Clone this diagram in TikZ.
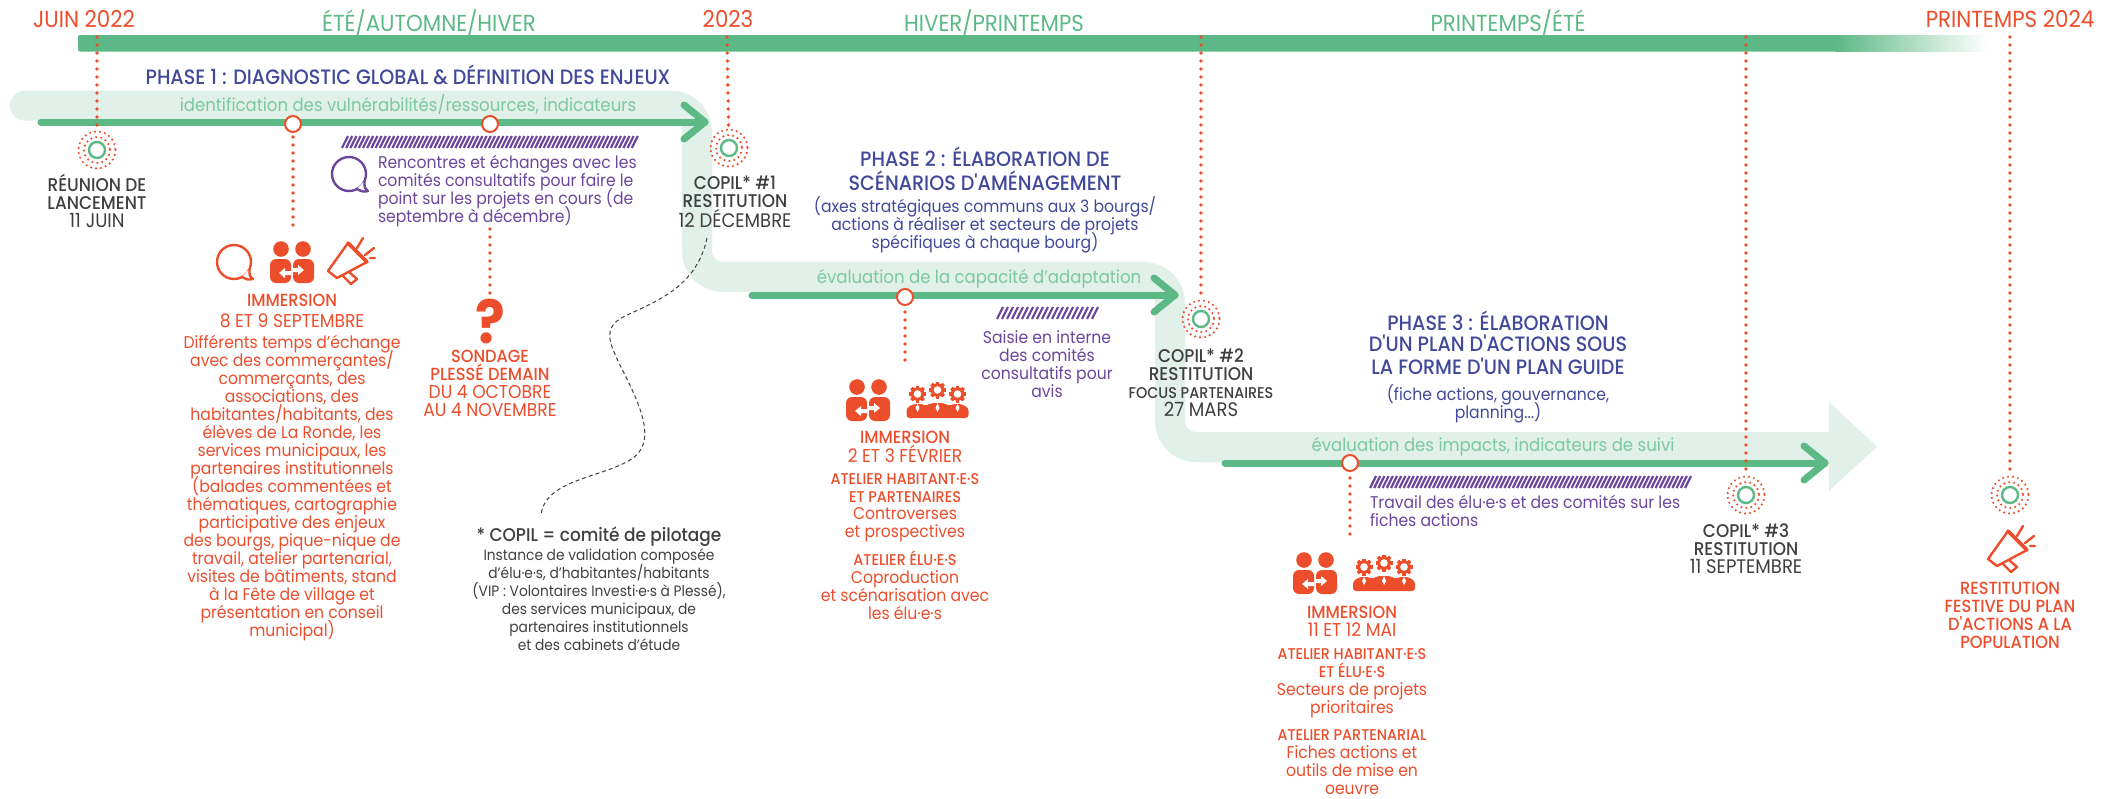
\documentclass[tikz,border=0pt]{standalone}
\usepackage{fontspec}
\setmainfont{Poppins}[FakeStretch=0.92]
\newfontfamily\medf{Poppins Medium}[FakeStretch=0.92]
\definecolor{cred}{HTML}{EC4E2C}
\definecolor{cgreen}{HTML}{5CB885}
\definecolor{cpale}{HTML}{E1F0E8}
\definecolor{cband}{HTML}{7CC8A2}
\definecolor{cblue}{HTML}{41499A}
\definecolor{cpurple}{HTML}{6A479C}
\definecolor{cdark}{HTML}{3F3F3F}
\newcommand\T[5]{\node[txt,anchor=north,#2] (#1) at (#3,#4-10) {\rule{0pt}{8pt}#5};}
\lineskiplimit=-20pt
\tikzset{
  x=0.5pt,y=-0.5pt,
  txt/.style={inner sep=0pt,outer sep=0pt,align=center,font=\fontsize{8.5}{9}\selectfont,execute at begin node={\lineskiplimit=-20pt}},
  toplabel/.style={font=\fontsize{11.6}{12}\selectfont},
  phasehead/.style={text=cblue,font=\medf\fontsize{10.4}{12}\selectfont},
  phasesub/.style={text=cblue,font=\fontsize{8.5}{9}\selectfont},
  bandtext/.style={text=cband,font=\fontsize{9}{9}\selectfont},
  redbody/.style={text=cred},
  redcaps/.style={text=cred,font=\fontsize{9.3}{9}\selectfont},
  redhead/.style={text=cred,font=\medf\fontsize{8.8}{9}\selectfont},
  redsmall/.style={text=cred,font=\medf\fontsize{7.8}{9}\selectfont},
  darkhead/.style={text=cdark,font=\medf\fontsize{9.2}{9}\selectfont},
  darkbody/.style={text=cdark,font=\fontsize{9.8}{9}\selectfont},
  purplebody/.style={text=cpurple},
  band/.style={draw=cpale,line width=15pt,line cap=round,rounded corners=13pt},
  timeline/.style={draw=cgreen,line width=3.5pt,line cap=round,line join=round},
  dotv/.style={draw=cred,line width=1.9pt,line cap=round,dash pattern=on 0pt off 4pt},
  openmark/.style={circle,draw=cred,fill=white,line width=1pt,minimum size=8pt,inner sep=0pt},
  ringmark/.style={circle,draw=cgreen,fill=white,line width=1.2pt,minimum size=8pt,inner sep=0pt},
  hatchline/.style={draw=cpurple,line width=1.1pt},
  pics/haloicon/.style={code={
    \draw[cred,line width=1.2pt,line cap=round,dash pattern=on 0pt off 2.5pt] (0,0) circle (13);
    \draw[cred,line width=1.2pt,line cap=round,dash pattern=on 0pt off 2.5pt] (0,0) circle (18.5);
  }},
  pics/bubbleicon/.style={code={
    \draw[#1,line width=1.2pt] (0,0) circle (17);
    \draw[#1,line width=1.2pt,fill=white,line join=round] (15.5,7) .. controls (15.5,14) .. (19,17) .. controls (14,18) .. (8,15);
  }},
  pics/peopleicon/.style={code={
    \fill[cred] (-11,-13) circle (7.8) (11,-13) circle (7.8);
    \fill[cred,rounded corners=3pt] (-22,21) -- (-22,-3) -- (-1,-3) -- (-1,5) -- (-1,21) -- cycle;
    \fill[cred,rounded corners=3pt] (1,21) -- (1,-3) -- (22,-3) -- (22,21) -- cycle;
    \fill[white] (-13,11) -- (-7,6) -- (-7,9) -- (-1,9) -- (-1,13) -- (-7,13) -- (-7,16) -- cycle;
    \fill[white] (12,8) -- (6,3) -- (6,6) -- (1,6) -- (1,10) -- (6,10) -- (6,13) -- cycle;
  }},
  pics/gearsicon/.style={code={
    \foreach \gx/\gy in {-20/-6,0/-10,20/-6}{
      \foreach \ga in {0,45,...,315}{
        \fill[cred,shift={(\gx,\gy)},rotate=\ga] (-1.6,-8.5) rectangle (1.6,8.5);
      }
      \fill[cred] (\gx,\gy) circle (6.8);
      \fill[white] (\gx,\gy) circle (3.8);
    }
    \fill[cred,rounded corners=1.5pt] (-31,18) -- (-31,8) -- (-24,4) -- (-16,4) -- (-10,6) -- (-7,3) -- (7,3) -- (10,6) -- (16,4) -- (24,4) -- (31,8) -- (31,18) -- cycle;
    \fill[white] (-20,4) -- (-18,8) -- (-20,12) -- (-22,8) -- cycle (0,3) -- (2,8) -- (0,12) -- (-2,8) -- cycle (20,4) -- (22,8) -- (20,12) -- (18,8) -- cycle;
  }},
  pics/megaicon/.style={code={
    \draw[cred,line width=1.2pt,line join=round,line cap=round] (-22,9) -- (-2,-19) -- (17,0) -- (-13,16) -- cycle;
    \draw[cred,line width=1.9pt,line cap=round] (-2,-19) -- (17,0);
    \draw[cred,line width=1.2pt,line join=round] (-8,13) -- (1,22) -- (7,17) -- (-1,10);
    \draw[cred,line width=1.2pt,line cap=round] (7,-14) -- (13,-24) (15,-7) -- (24,-14) (20,-4) -- (25,-4);
  }},
}
\begin{document}
\begin{tikzpicture}
\useasboundingbox (0,0) rectangle (2119,798);
% top bar
\fill[cgreen,rounded corners=1pt] (78,35) rectangle (1836,51.5);
\shade[left color=cgreen,right color=white] (1835,35) rectangle (1987,51.5);
% coordinates
\coordinate (bandA) at (25,105.5);
\coordinate (bandB) at (697,105.5);
\coordinate (bandC) at (697,277);
\coordinate (bandD) at (1170,277);
\coordinate (bandE) at (1170,447);
\coordinate (bandF) at (1830,447);
\draw[band] (bandA) -- (bandB) -- (bandC) -- (bandD) -- (bandE) -- (bandF);
\fill[cpale] (1829,402) -- (1877,446.5) -- (1829,491) -- cycle;
% timelines
\coordinate (tlA) at (41,122); \coordinate (tlAe) at (705,122);
\coordinate (tlB) at (752,295); \coordinate (tlBe) at (1175,295);
\coordinate (tlC) at (1225,463); \coordinate (tlCe) at (1825,463);
\draw[timeline] (tlA) -- (tlAe);
\draw[timeline] (684,105) -- (tlAe) -- (684,139);
\draw[timeline] (tlB) -- (tlBe);
\draw[timeline] (1154,278) -- (tlBe) -- (1154,312);
\draw[timeline] (tlC) -- (tlCe);
\draw[timeline] (1804,446) -- (tlCe) -- (1804,480);
% top labels
\T{lA}{toplabel,text=cred}{84}{20}{JUIN 2022}
\T{lB}{toplabel,text=cgreen}{429}{20}{ÉTÉ/AUTOMNE/HIVER}
\T{lC}{toplabel,text=cred}{728}{20}{2023}
\T{lD}{toplabel,text=cgreen}{994}{20}{HIVER/PRINTEMPS}
\T{lE}{toplabel,text=cgreen}{1508}{20}{PRINTEMPS/ÉTÉ}
\T{lF}{toplabel,text=cred}{2010}{20}{PRINTEMPS 2024}
% rings
\node[ringmark] (r1) at (97,150) {};
\node[ringmark] (r2) at (729,148) {};
\node[ringmark] (r3) at (1201,319) {};
\node[ringmark] (r4) at (1746,495) {};
\node[ringmark] (r5) at (2010,495) {};
\foreach \n in {r1,r2,r3,r4,r5}{\pic at (\n) {haloicon};}
\coordinate (t1) at (97,37); \coordinate (t2) at (727,37); \coordinate (t3) at (1201,37);
\coordinate (t4) at (1746,37); \coordinate (t5) at (2010,37);
\foreach \a/\b in {t1/r1,t2/r2,t3/r3,t4/r4,t5/r5}{\draw[dotv,shorten >=6pt] (\a) -- (\b);}
% open marks
\node[openmark] (m1) at (293,124) {};
\node[openmark] (m2) at (490,124) {};
\node[openmark] (m3) at (905,297) {};
\node[openmark] (m4) at (1350,463) {};
\coordinate (e1) at (293,228);
\coordinate (f2) at (490,229); \coordinate (e2) at (490,295);
\coordinate (e3) at (905,367);
\coordinate (e4) at (1350,539);
\draw[dotv,shorten <=2pt] (m1) -- (e1);
\draw[dotv] (f2) -- (e2);
\draw[dotv,shorten <=3pt] (m3) -- (e3);
\draw[dotv,shorten <=3pt] (m4) -- (e4);
% hatches
\foreach \x in {342,346.2,...,634}{\draw[hatchline] (\x,148) -- (\x+6,136);}
\foreach \x in {997,1002,...,1095}{\draw[hatchline] (\x,319) -- (\x+6,307);}
\foreach \x in {1370,1374.2,...,1687}{\draw[hatchline] (\x,488) -- (\x+6,476);}
% phase 1
\T{pA}{phasehead}{408}{75}{PHASE 1 : DIAGNOSTIC GLOBAL \& DÉFINITION DES ENJEUX}
\T{bA}{bandtext}{408}{105}{identification des vulnérabilités/ressources, indicateurs}
\T{rzA}{darkhead}{97}{184}{RÉUNION DE\\LANCEMENT}
\T{rzB}{darkbody}{97}{221}{11 JUIN}
\pic at (349,174) {bubbleicon=cpurple};
\T{cmA}{purplebody,anchor=north west,align=left}{378}{162}{Rencontres et échanges avec les\\comités consultatifs  pour faire le\\point sur les projets en cours (de\\septembre à décembre)}
\pic at (234,262) {bubbleicon=cred};
\pic at (292,262) {peopleicon};
\pic at (350,262) {megaicon};
\T{imA}{redhead}{292}{300}{IMMERSION}
\T{imAd}{redcaps}{292}{321}{8 ET 9 SEPTEMBRE}
\T{imAt}{redbody}{292}{342}{Différents temps d’échange\\avec des commerçantes/\\commerçants, des\\associations, des\\habitantes/habitants, des\\élèves de La Ronde, les\\services municipaux, les\\partenaires institutionnels\\(balades commentées et\\thématiques, cartographie\\participative des enjeux\\des bourgs, pique-nique de\\travail, atelier partenarial,\\visites de bâtiments, stand\\à la Fête de village et\\présentation en conseil\\municipal)}
\node[inner sep=0pt,text=cred,font=\bfseries\fontsize{30}{30}\selectfont] (qm) at (490,322) {?};
\T{soA}{redhead}{490}{356}{SONDAGE\\PLESSÉ DEMAIN}
\T{soB}{redcaps}{490}{392}{DU 4 OCTOBRE\\AU 4 NOVEMBRE}
% copil 1 and note
\T{coA}{darkhead}{735}{183}{COPIL* \#1\\RESTITUTION}
\T{coAd}{darkbody}{735}{219}{12 DÉCEMBRE}
\coordinate (dsA) at (707,238);
\coordinate (dsB) at (541,515);
\draw[cdark,line width=0.5pt,dashed,dash pattern=on 2pt off 1.5pt] (dsA) .. controls (697,285) and (660,300) .. (625,316) .. controls (600,328) and (610,345) .. (625,375) .. controls (645,415) and (655,445) .. (630,460) .. controls (600,478) and (545,480) .. (dsB);
\T{noA}{text=cdark,font=\medf\fontsize{9.2}{9}\selectfont}{599}{535}{* COPIL = comité de pilotage}
\T{noB}{text=cdark,font=\fontsize{7.5}{9}\selectfont}{599}{554}{Instance de validation composée\\d'élu·e·s, d'habitantes/habitants\\(VIP : Volontaires Investi·e·s à Plessé),\\des services municipaux, de\\partenaires institutionnels\\et des cabinets d'étude}
% phase 2
\T{pB}{phasehead}{985}{157}{PHASE 2 : ÉLABORATION DE}
\T{pBb}{phasehead}{985}{181}{SCÉNARIOS D'AMÉNAGEMENT}
\T{pBs}{phasesub}{985}{206}{(axes stratégiques communs aux 3 bourgs/\\actions à réaliser et secteurs de projets\\spécifiques à chaque bourg)}
\T{bB}{bandtext}{979}{277}{évaluation de la capacité d'adaptation}
\T{saA}{purplebody}{1047}{337}{Saisie en interne\\des comités\\consultatifs pour\\avis}
\T{coB}{darkhead}{1201}{356}{COPIL* \#2\\RESTITUTION}
\T{coBf}{text=cdark,font=\medf\fontsize{7.8}{9}\selectfont}{1201}{392}{FOCUS PARTENAIRES}
\T{coBd}{darkbody}{1201}{410}{27 MARS}
\pic at (868,400) {peopleicon};
\pic at (937.5,400) {gearsicon};
\T{imB}{redhead}{905}{437}{IMMERSION}
\T{imBd}{redcaps}{905}{455}{2 ET 3 FÉVRIER}
\T{imBa}{redsmall}{905}{478}{ATELIER HABITANT·E·S\\ET PARTENAIRES}
\T{imBb}{redbody}{905}{513}{Controverses\\et prospectives}
\T{imBc}{redsmall}{905}{559}{ATELIER ÉLU·E·S}
\T{imBe}{redbody}{905}{577}{Coproduction\\et scénarisation avec\\les élu·e·s}
% phase 3
\T{pC}{phasehead}{1498}{321}{PHASE 3 : ÉLABORATION}
\T{pCb}{phasehead}{1498}{345}{D'UN PLAN D'ACTIONS SOUS}
\T{pCc}{phasehead}{1498}{368}{LA FORME D'UN PLAN GUIDE}
\T{pCs}{phasesub}{1498}{394}{(fiche actions, gouvernance,\\planning...)}
\T{bC}{bandtext}{1493}{445}{évaluation des impacts, indicateurs de suivi}
\T{trA}{purplebody,anchor=north west,align=left}{1370}{502}{Travail des élu·e·s et des comités sur les\\fiches actions}
\T{coC}{darkhead}{1746}{531}{COPIL* \#3\\RESTITUTION}
\T{coCd}{darkbody}{1746}{567}{11 SEPTEMBRE}
\pic at (1315,573) {peopleicon};
\pic at (1384,573) {gearsicon};
\T{imC}{redhead}{1352}{612}{IMMERSION}
\T{imCd}{redcaps}{1352}{630}{11 ET 12 MAI}
\T{imCa}{redsmall}{1352}{653}{ATELIER HABITANT·E·S\\ET ÉLU·E·S}
\T{imCb}{redbody}{1352}{689}{Secteurs de projets\\prioritaires}
\T{imCc}{redsmall}{1352}{734}{ATELIER PARTENARIAL}
\T{imCe}{redbody}{1352}{752}{Fiches actions et\\outils de mise en\\oeuvre}
\pic at (2010,550) {megaicon};
\T{fin}{redhead}{2010}{588}{RESTITUTION\\FESTIVE DU PLAN\\D'ACTIONS A LA\\POPULATION}
\end{tikzpicture}
\end{document}
